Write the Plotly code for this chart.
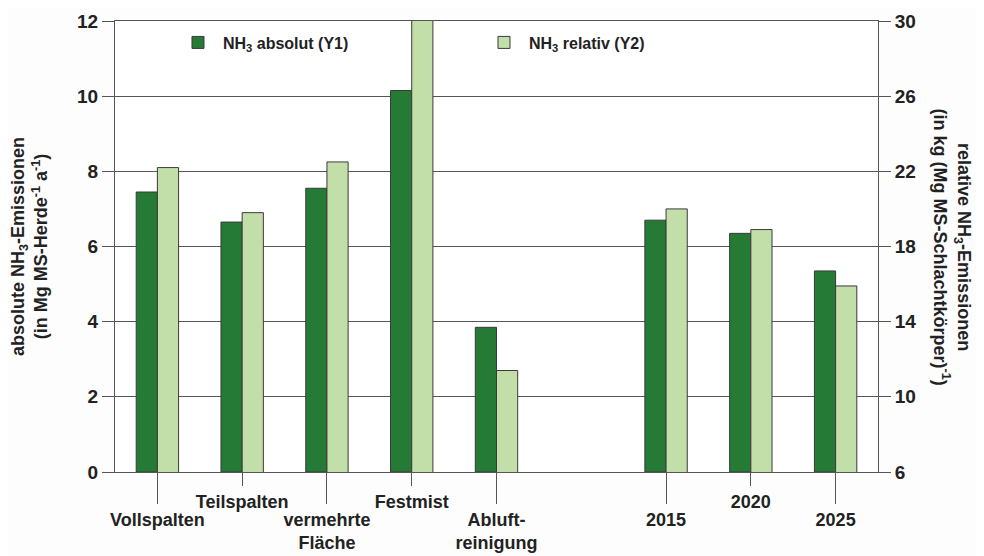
import plotly.graph_objects as go

CATEGORIES = [
    "Vollspalten",
    "Teilspalten",
    "vermehrte<br>Fläche",
    "Festmist",
    "Abluft-<br>reinigung",
    "",
    "2015",
    "2020",
    "2025",
]
ABSOLUT = [7.45, 6.65, 7.55, 10.15, 3.85, None, 6.7, 6.35, 5.35]
RELATIV = [22.2, 19.8, 22.5, 31.0, 11.4, None, 20.0, 18.9, 15.9]
LONG_TICKS = ["Vollspalten", "vermehrte<br>Fläche", "Abluft-<br>reinigung", "2015", "2025"]
SHORT_TICKS = ["Teilspalten", "Festmist", "2020"]

DARK = "#257A35"
LIGHT = "#C3DFA9"
EDGE = "#3a3a3a"
AXIS = "#555555"
FAMILY = "Liberation Sans, Arial, sans-serif"
TXT = "#222222"

pos = list(range(len(CATEGORIES)))
idx = [i for i, v in enumerate(ABSOLUT) if v is not None]

fig = go.Figure()
fig.add_trace(
    go.Bar(
        x=[pos[i] for i in idx],
        y=[ABSOLUT[i] for i in idx],
        width=0.25,
        offset=-0.25,
        marker=dict(color=DARK, line=dict(color=EDGE, width=1)),
        name="NH<sub>3</sub> absolut (Y1)",
    )
)
fig.add_trace(
    go.Bar(
        x=[pos[i] for i in idx],
        y=[RELATIV[i] for i in idx],
        width=0.25,
        offset=0,
        yaxis="y2",
        marker=dict(color=LIGHT, line=dict(color=EDGE, width=1)),
        name="NH<sub>3</sub> relativ (Y2)",
    )
)
# invisible trace so the second x axis (short ticks) is drawn
fig.add_trace(go.Scatter(x=[0], y=[0], xaxis="x2", mode="markers",
                         marker=dict(opacity=0), showlegend=False, hoverinfo="skip"))

# page body has an 8px margin, so margins are reduced accordingly
fig.update_layout(
    width=984,
    height=556,
    margin=dict(l=107, r=114, t=13, b=92),
    paper_bgcolor="#fdfdfd",
    plot_bgcolor="white",
    font=dict(family=FAMILY, size=19, color=TXT, weight=700),
    showlegend=True,
    legend=dict(
        orientation="h",
        x=0.076,
        y=0.99,
        xanchor="left",
        yanchor="top",
        bgcolor="rgba(0,0,0,0)",
        entrywidth=251,
        entrywidthmode="pixels",
        itemwidth=40,
        font=dict(size=16, family=FAMILY, weight=700, color=TXT),
    ),
    xaxis=dict(
        range=[-0.5, len(CATEGORIES) - 0.5],
        tickvals=[CATEGORIES.index(c) for c in LONG_TICKS],
        ticktext=LONG_TICKS,
        tickfont=dict(size=18),
        ticks="outside",
        ticklen=31,
        tickcolor=AXIS,
        tickwidth=1,
        showline=True,
        linecolor=AXIS,
        linewidth=1,
        mirror=True,
        showgrid=False,
        zeroline=False,
        automargin=False,
    ),
    xaxis2=dict(
        range=[-0.5, len(CATEGORIES) - 0.5],
        overlaying="x",
        side="bottom",
        tickvals=[CATEGORIES.index(c) for c in SHORT_TICKS],
        ticktext=SHORT_TICKS,
        tickfont=dict(size=18),
        ticks="outside",
        ticklen=13,
        tickcolor=AXIS,
        tickwidth=1,
        showline=False,
        showgrid=False,
        zeroline=False,
        automargin=False,
    ),
    yaxis=dict(
        range=[0, 12],
        dtick=2,
        ticks="outside",
        ticklen=12,
        tickcolor=AXIS,
        showline=True,
        linecolor=AXIS,
        showgrid=True,
        gridcolor=AXIS,
        gridwidth=1,
        zeroline=False,
        automargin=False,
        title=dict(
            text="absolute NH<sub>3</sub>-Emissionen<br>(in Mg MS-Herde<sup>-1</sup> a<sup>-1</sup>)",
            font=dict(size=18, family=FAMILY, weight=700, color=TXT),
            standoff=28,
        ),
    ),
    yaxis2=dict(
        range=[6, 30],
        tick0=6,
        dtick=4,
        overlaying="y",
        side="right",
        ticks="outside",
        ticklen=12,
        tickcolor=AXIS,
        showline=True,
        linecolor=AXIS,
        showgrid=False,
        zeroline=False,
        automargin=False,
    ),
    annotations=[
        dict(
            text="relative NH<sub>3</sub>-Emissionen<br>(in kg (Mg MS-Schlachtkörper)<sup>-1</sup>)",
            xref="paper",
            yref="paper",
            x=1.097,
            y=0.5,
            xanchor="center",
            yanchor="middle",
            textangle=90,
            showarrow=False,
            font=dict(size=18, family=FAMILY, weight=700, color=TXT),
        )
    ],
)

fig.write_html("out.html")
